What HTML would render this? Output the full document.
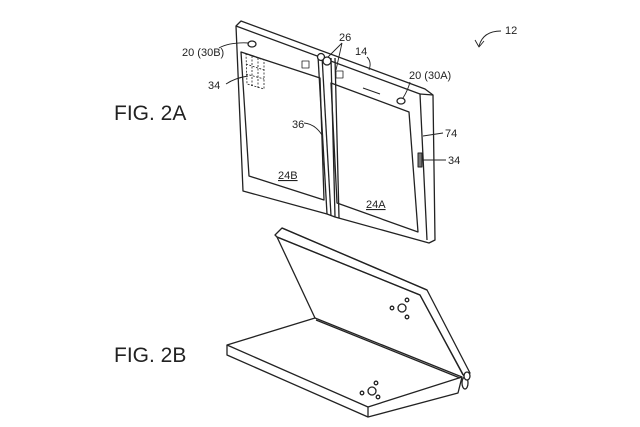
<!DOCTYPE html>
<html><head><style>
html,body{margin:0;padding:0;background:#fff;width:640px;height:427px;overflow:hidden}
svg{display:block}
text{font-family:"Liberation Sans",sans-serif;fill:#222}
</style></head><body>
<svg width="640" height="427" viewBox="0 0 640 427" xmlns="http://www.w3.org/2000/svg">
<g fill="none" stroke="#222" stroke-width="1.3" stroke-linejoin="round">
<polygon points="236,26 241,21 425,89 433,95 435,240 429,243 335,217 327,214 243,191" fill="#fff"/>
<polyline points="236,26 420,94 427,240"/>
<line x1="420" y1="94" x2="433" y2="95"/>
<polygon points="241,52 320,78 324,200 249,176"/>
<polygon points="331,83 409,112 418,232 337,203"/>
<line x1="318" y1="56" x2="327" y2="214"/>
<line x1="322" y1="56" x2="331" y2="216"/>
<line x1="331" y1="58" x2="335" y2="217"/>
<line x1="335" y1="58" x2="339" y2="218"/>
<circle cx="321" cy="57" r="3.5" fill="#fff"/>
<circle cx="327" cy="61" r="4" fill="#fff"/>
<ellipse cx="252" cy="44" rx="4" ry="3"/>
<ellipse cx="401" cy="101" rx="4" ry="3"/>
<rect x="302" y="61" width="7" height="7" stroke-width="0.8"/>
<rect x="336" y="71" width="7" height="7" stroke-width="0.8"/>
<line x1="363" y1="88" x2="380" y2="94" stroke-width="1"/>
<rect x="418" y="153" width="4" height="14" stroke-width="1" fill="#777"/>
<g stroke-dasharray="2,1.5" stroke-width="0.8">
<polygon points="246,54 264,60 264,89 247,84"/>
<line x1="252" y1="56" x2="252" y2="86"/>
<line x1="258" y1="58" x2="258" y2="88"/>
<line x1="246" y1="64" x2="264" y2="70"/>
<line x1="246" y1="74" x2="264" y2="79"/>
</g>
<g stroke-width="0.9">
<path d="M219,48 Q230,42 249,43"/>
<path d="M226,84 Q235,78 248,76"/>
<path d="M342,43 L328,57 M342,43 L336,70"/>
<path d="M367,57 Q372,62 369,70"/>
<path d="M410,82 Q408,90 403,98"/>
<path d="M304,123 Q315,124 322,135"/>
<path d="M443,133 L423,136"/>
<path d="M446,160 L423,160"/>
<path d="M501,31 Q483,31 479,46"/>
<path d="M475,40 L479,47 L484,41"/>
</g>
<polygon points="275,235 282,228 427,290 470,373 465,378 420,295 277,237" fill="#fff"/>
<polyline points="277,237 420,295 463,375"/>
<line x1="277" y1="237" x2="315" y2="318"/>
<line x1="282" y1="228" x2="427" y2="290"/>
<polygon points="227,345 315,318 462,377 368,407" fill="#fff"/>
<polyline points="227,345 227,355 368,417 458,393 462,377"/>
<line x1="368" y1="407" x2="368" y2="417"/>
<line x1="316" y1="320" x2="460" y2="378"/>
<ellipse cx="465" cy="383" rx="3" ry="6" fill="#fff"/>
<ellipse cx="467" cy="376" rx="3" ry="4" fill="#fff"/>
<circle cx="402" cy="308" r="4"/><circle cx="392" cy="308" r="1.8"/>
<circle cx="407" cy="300" r="1.8"/><circle cx="407" cy="317" r="1.8"/>
<circle cx="372" cy="391" r="4"/><circle cx="362" cy="393" r="1.8"/>
<circle cx="376" cy="383" r="1.8"/><circle cx="378" cy="397" r="1.8"/>
</g>
<text x="114" y="120" font-size="21">FIG. 2A</text>
<text x="114" y="362" font-size="21">FIG. 2B</text>
<text x="182" y="56" font-size="11">20 (30B)</text>
<text x="208" y="89" font-size="11">34</text>
<text x="339" y="41" font-size="11">26</text>
<text x="355" y="55" font-size="11">14</text>
<text x="409" y="79" font-size="11">20 (30A)</text>
<text x="292" y="128" font-size="11">36</text>
<text x="445" y="137" font-size="11">74</text>
<text x="448" y="164" font-size="11">34</text>
<text x="278" y="179" font-size="11" text-decoration="underline">24B</text>
<text x="366" y="208" font-size="11" text-decoration="underline">24A</text>
<text x="505" y="34" font-size="11">12</text>
</svg>
</body></html>
